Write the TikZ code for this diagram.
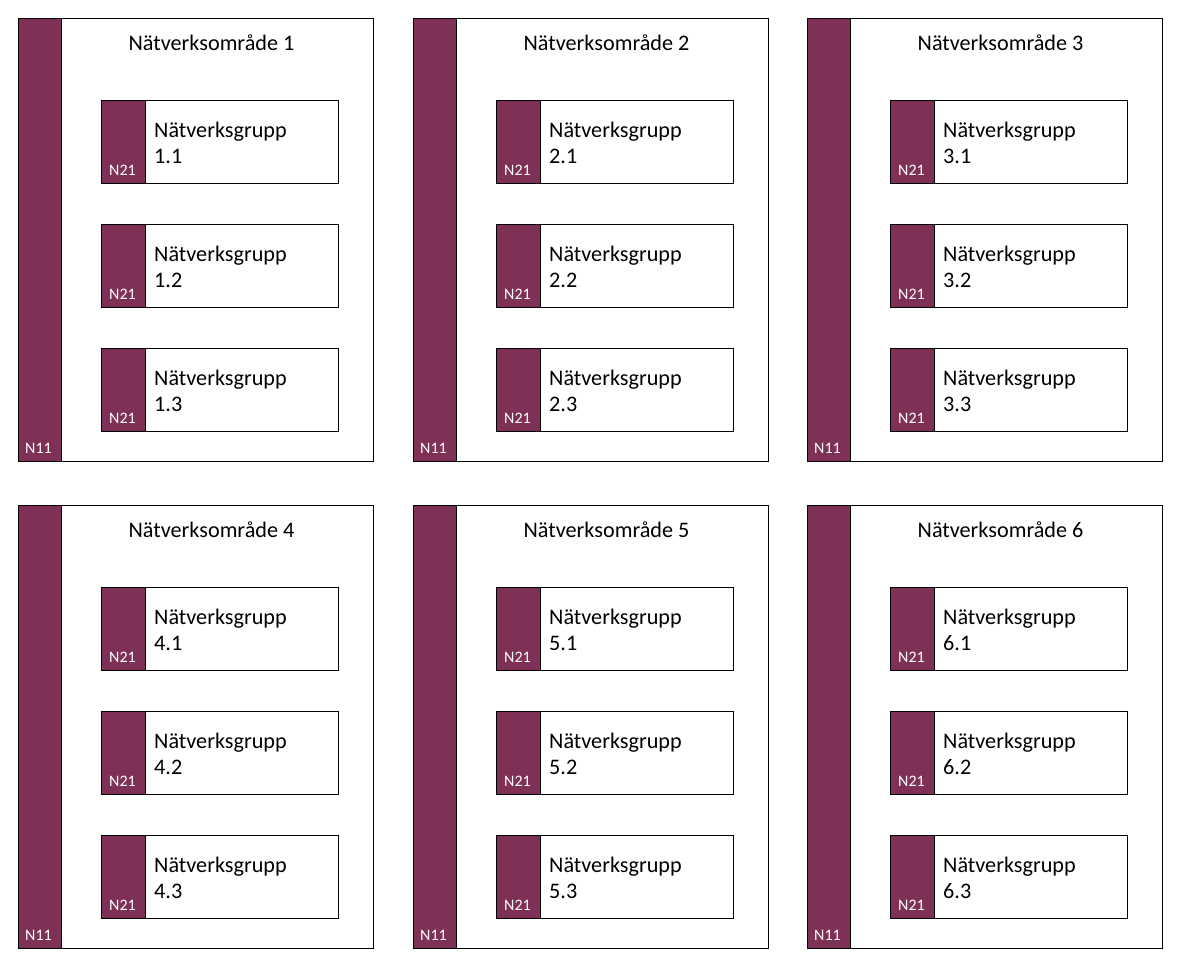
\documentclass[tikz,border=0pt]{standalone}
\usepackage{fontspec}
\setmainfont{Carlito}
\definecolor{plum}{HTML}{7F3057}
\tikzset{
  panelbox/.style={draw=black, line width=0.9pt, fill=white, anchor=north west, minimum width=355pt, minimum height=443.5pt, inner sep=0pt, outer sep=0pt},
  barbox/.style={draw=black, line width=0.9pt, fill=plum, anchor=north west, minimum width=43pt, minimum height=443.5pt, inner sep=0pt, outer sep=0pt},
  groupbox/.style={draw=black, line width=0.9pt, fill=white, anchor=north west, minimum width=237pt, minimum height=83pt, inner sep=0pt, outer sep=0pt},
  tagbox/.style={draw=black, line width=0.9pt, fill=plum, anchor=north west, minimum width=44pt, minimum height=83pt, inner sep=0pt, outer sep=0pt},
  titletext/.style={font=\fontsize{22.2}{27}\selectfont, anchor=base, inner sep=0pt},
  grouptext/.style={font=\fontsize{22.2}{27}\selectfont, anchor=base west, inner sep=0pt},
  tagtext/.style={font=\fontsize{16}{19}\selectfont, text=white, anchor=base west, inner sep=0pt}
}
\begin{document}
\begin{tikzpicture}[x=1pt,y=-1pt]
\useasboundingbox[fill=white] (0,0) rectangle (1189,977);
\foreach \p/\px/\py in {1/18/18, 2/413/18, 3/807/18, 4/18/505, 5/413/505, 6/807/505} {
  \node[panelbox] (panel\p) at (\px,\py) {};
  \node[barbox] (bar\p) at (\px,\py) {};
  \node[titletext] (title\p) at ({\px+193.5},{\py+32}) {Nätverksområde \p};
  \node[tagtext] (n11\p) at ({\px+7},{\py+435}) {N11};
  \foreach \g/\gy in {1/82, 2/206, 3/330} {
    \node[groupbox] (group\p\g) at ({\px+83},{\py+\gy}) {};
    \node[tagbox] (tag\p\g) at ({\px+83},{\py+\gy}) {};
    \node[grouptext] (gname\p\g) at ({\px+136},{\py+\gy+37}) {Nätverksgrupp};
    \node[grouptext] (gnum\p\g) at ({\px+136},{\py+\gy+63}) {\p.\g};
    \node[tagtext] (n21\p\g) at ({\px+91},{\py+\gy+75}) {N21};
  }
}
\end{tikzpicture}
\end{document}
